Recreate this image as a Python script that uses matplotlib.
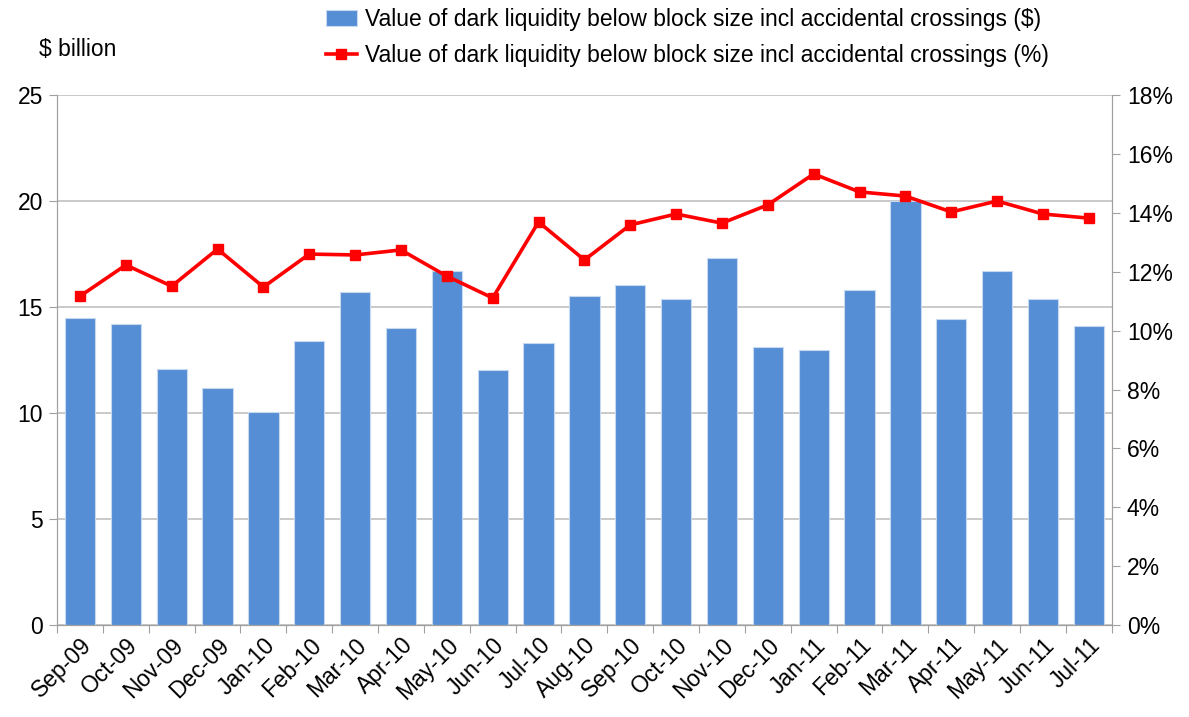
import numpy as np
import matplotlib.pyplot as plt
from matplotlib.ticker import FuncFormatter

plt.rcParams['font.family'] = ['Liberation Sans', 'DejaVu Sans']

# data
months = ['Sep-09', 'Oct-09', 'Nov-09', 'Dec-09', 'Jan-10', 'Feb-10', 'Mar-10',
          'Apr-10', 'May-10', 'Jun-10', 'Jul-10', 'Aug-10', 'Sep-10', 'Oct-10',
          'Nov-10', 'Dec-10', 'Jan-11', 'Feb-11', 'Mar-11', 'Apr-11', 'May-11',
          'Jun-11', 'Jul-11']
value_bn = [14.5, 14.2, 12.1, 11.2, 10.05, 13.4, 15.7, 14.0, 16.7, 12.05, 13.3,
            15.5, 16.05, 15.4, 17.3, 13.1, 13.0, 15.8, 20.0, 14.45, 16.7, 15.4, 14.1]
share_pct = [11.17, 12.23, 11.51, 12.77, 11.48, 12.60, 12.57, 12.74, 11.85, 11.11,
             13.69, 12.40, 13.59, 13.96, 13.65, 14.27, 15.32, 14.71, 14.57, 14.03,
             14.40, 13.96, 13.82]

lbl_bar = 'Value of dark liquidity below block size incl accidental crossings ($)'
lbl_line = 'Value of dark liquidity below block size incl accidental crossings (%)'

FS = 16.5

fig = plt.figure(figsize=(11.89, 7.17), dpi=100)
ax = fig.add_axes([0.048, 0.128, 0.887, 0.7395])
x = np.arange(len(months))

ax.yaxis.grid(True, color='#c0c0c0', linewidth=1.2)
ax.set_axisbelow(True)
bars = ax.bar(x, value_bn, width=0.66, color='#558ed5', edgecolor='#c6d9f1',
              linewidth=0.8, label=lbl_bar, zorder=2)
ax.set_ylim(0, 25)
ax.set_yticks(range(0, 26, 5))
ax.set_xlim(-0.5, len(months) - 0.5)

ax2 = ax.twinx()
line, = ax2.plot(x, share_pct, color='#ff0000', linewidth=2.6, marker='s',
                 markersize=6.5, label=lbl_line, zorder=3)
ax2.set_ylim(0, 18)
ax2.set_yticks(range(0, 19, 2))
ax2.yaxis.set_major_formatter(FuncFormatter(lambda v, p: f'{int(v)}%'))

# x ticks between categories, labels at the centres
ax.set_xticks(np.arange(-0.5, len(months), 1))
ax.set_xticklabels([])
ax.set_xticks(x, minor=True)
ax.set_xticklabels(months, minor=True, rotation=45, ha='right',
                   rotation_mode='anchor', fontsize=FS)
ax.tick_params(axis='x', which='minor', length=0, pad=6)
ax.tick_params(axis='x', which='major', length=6, color='#a0a0a0')

for a in (ax, ax2):
    for s in a.spines.values():
        s.set_color('#a0a0a0')
    a.spines['top'].set_visible(False)
ax.tick_params(axis='y', labelsize=FS, length=6, color='#a0a0a0', pad=4)
ax2.tick_params(axis='y', labelsize=FS, length=6, color='#a0a0a0', pad=5)

fig.text(0.033, 0.915, '$ billion', fontsize=FS, ha='left', va='bottom')

fig.legend(handles=[bars, line], loc='upper center', bbox_to_anchor=(0.578, 1.018),
           frameon=False, fontsize=FS, handlelength=1.35, handletextpad=0.35,
           labelspacing=0.6)

fig.savefig('out.png', dpi=100)
